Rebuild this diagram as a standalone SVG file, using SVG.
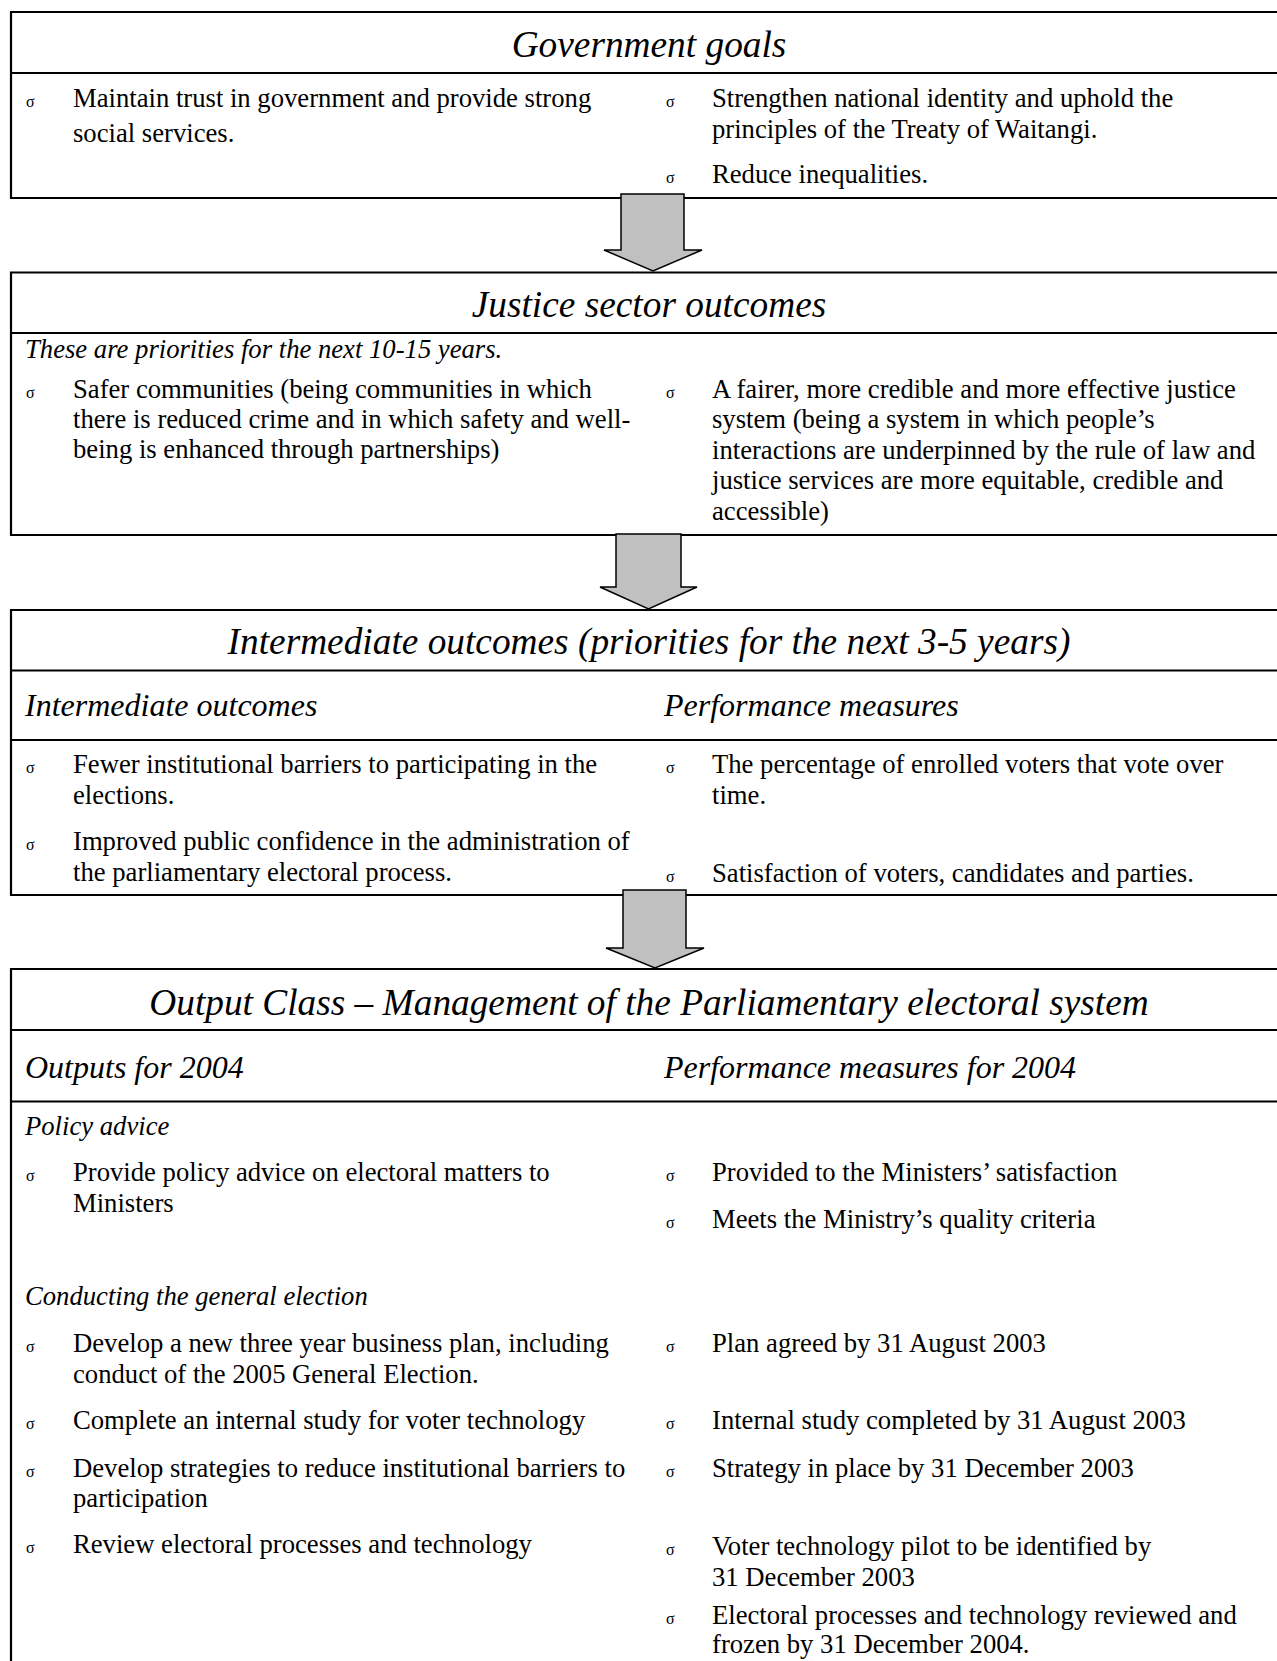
<svg xmlns="http://www.w3.org/2000/svg" width="1277" height="1661" viewBox="0 0 1277 1661">
<style>
  text { font-family: "Liberation Serif", "Times New Roman", serif; fill: #000; }
  .title { font-size: 37.33px; font-style: italic; text-anchor: middle; }
  .sub { font-size: 32px; font-style: italic; }
  .note { font-size: 26.67px; font-style: italic; }
  .body { font-size: 26.67px; }
  .bul { font-size: 16px; }
  .rule { stroke: #000; stroke-width: 2.2; fill: none; }
  .arrow { fill: #c0c0c0; stroke: #000; stroke-width: 1.5; stroke-linejoin: miter; }
</style>
<rect width="1277" height="1661" fill="#fff"/>

<g id="goals">
  <path class="rule" d="M11 12 H1290 M11 73 H1290 M11 198 H1290 M11 11 V199"/>
  <text class="title" x="649" y="57">Government goals</text>
  <text class="bul" x="26" y="107">σ</text>
  <text class="body" x="73" y="107">Maintain trust in government and provide strong</text>
  <text class="body" x="73" y="141.5">social services.</text>
  <text class="bul" x="666" y="107">σ</text>
  <text class="body" x="712" y="107">Strengthen national identity and uphold the</text>
  <text class="body" x="712" y="138">principles of the Treaty of Waitangi.</text>
  <text class="bul" x="666" y="183">σ</text>
  <text class="body" x="712" y="183">Reduce inequalities.</text>
</g>

<g id="justice">
  <path class="rule" d="M11 272.5 H1290 M11 333 H1290 M11 535 H1290 M11 271.5 V536"/>
  <text class="title" x="649" y="317">Justice sector outcomes</text>
  <text class="note" x="25" y="358">These are priorities for the next 10-15 years.</text>
  <text class="bul" x="26" y="398">σ</text>
  <text class="body" x="73" y="398">Safer communities (being communities in which</text>
  <text class="body" x="73" y="428">there is reduced crime and in which safety and well-</text>
  <text class="body" x="73" y="458">being is enhanced through partnerships)</text>
  <text class="bul" x="666" y="397.5">σ</text>
  <text class="body" x="712" y="397.5">A fairer, more credible and more effective justice</text>
  <text class="body" x="712" y="428">system (being a system in which people’s</text>
  <text class="body" x="712" y="458.5">interactions are underpinned by the rule of law and</text>
  <text class="body" x="712" y="489">justice services are more equitable, credible and</text>
  <text class="body" x="712" y="519.5">accessible)</text>
</g>

<g id="intermediate">
  <path class="rule" d="M11 610 H1290 M11 670.5 H1290 M11 740 H1290 M11 895 H1290 M11 609 V896"/>
  <text class="title" x="649" y="654">Intermediate outcomes (priorities for the next 3-5 years)</text>
  <text class="sub" x="25" y="716">Intermediate outcomes</text>
  <text class="sub" x="664" y="716">Performance measures</text>
  <text class="bul" x="26" y="773">σ</text>
  <text class="body" x="73" y="773">Fewer institutional barriers to participating in the</text>
  <text class="body" x="73" y="803.5">elections.</text>
  <text class="bul" x="26" y="850">σ</text>
  <text class="body" x="73" y="850">Improved public confidence in the administration of</text>
  <text class="body" x="73" y="881">the parliamentary electoral process.</text>
  <text class="bul" x="666" y="773">σ</text>
  <text class="body" x="712" y="773">The percentage of enrolled voters that vote over</text>
  <text class="body" x="712" y="803.5">time.</text>
  <text class="bul" x="666" y="882">σ</text>
  <text class="body" x="712" y="882">Satisfaction of voters, candidates and parties.</text>
</g>

<g id="output">
  <path class="rule" d="M11 969 H1290 M11 1030 H1290 M11 1101.5 H1290 M11 968 V1661"/>
  <text class="title" x="649" y="1015">Output Class – Management of the Parliamentary electoral system</text>
  <text class="sub" x="25" y="1078">Outputs for 2004</text>
  <text class="sub" x="664" y="1078">Performance measures for 2004</text>
  <text class="note" x="25" y="1134.5">Policy advice</text>
  <text class="bul" x="26" y="1181">σ</text>
  <text class="body" x="73" y="1181">Provide policy advice on electoral matters to</text>
  <text class="body" x="73" y="1211.5">Ministers</text>
  <text class="bul" x="666" y="1181">σ</text>
  <text class="body" x="712" y="1181">Provided to the Ministers’ satisfaction</text>
  <text class="bul" x="666" y="1228">σ</text>
  <text class="body" x="712" y="1228">Meets the Ministry’s quality criteria</text>
  <text class="note" x="25" y="1304.5">Conducting the general election</text>
  <text class="bul" x="26" y="1352">σ</text>
  <text class="body" x="73" y="1352">Develop a new three year business plan, including</text>
  <text class="body" x="73" y="1382.5">conduct of the 2005 General Election.</text>
  <text class="bul" x="26" y="1429">σ</text>
  <text class="body" x="73" y="1429">Complete an internal study for voter technology</text>
  <text class="bul" x="26" y="1476.5">σ</text>
  <text class="body" x="73" y="1476.5">Develop strategies to reduce institutional barriers to</text>
  <text class="body" x="73" y="1507">participation</text>
  <text class="bul" x="26" y="1553">σ</text>
  <text class="body" x="73" y="1553">Review electoral processes and technology</text>
  <text class="bul" x="666" y="1352">σ</text>
  <text class="body" x="712" y="1352">Plan agreed by 31 August 2003</text>
  <text class="bul" x="666" y="1429">σ</text>
  <text class="body" x="712" y="1429">Internal study completed by 31 August 2003</text>
  <text class="bul" x="666" y="1476.5">σ</text>
  <text class="body" x="712" y="1476.5">Strategy in place by 31 December 2003</text>
  <text class="bul" x="666" y="1555">σ</text>
  <text class="body" x="712" y="1555">Voter technology pilot to be identified by</text>
  <text class="body" x="712" y="1585.5">31 December 2003</text>
  <text class="bul" x="666" y="1624">σ</text>
  <text class="body" x="712" y="1624">Electoral processes and technology reviewed and</text>
  <text class="body" x="712" y="1653">frozen by 31 December 2004.</text>
</g>

<g id="connectors">
  <polygon class="arrow" points="621,194 684,194 684,250 702,250 653,271 604,250 621,250"/>
  <polygon class="arrow" points="616,534 681,534 681,587 697,587 648.5,609 600,587 616,587"/>
  <polygon class="arrow" points="623,890 686,890 686,948 704,948 655,968 606,948 623,948"/>
</g>
</svg>
